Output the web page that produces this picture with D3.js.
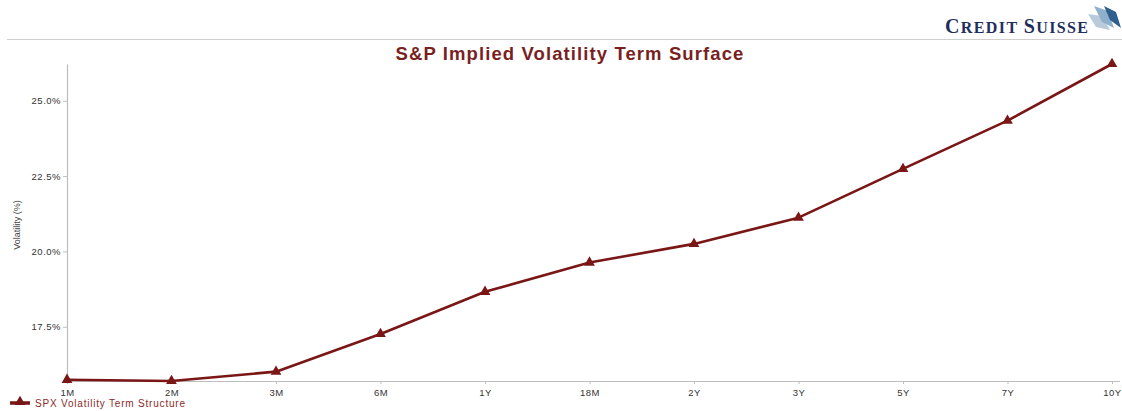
<!DOCTYPE html>
<html>
<head>
<meta charset="utf-8">
<script src="https://cdn.jsdelivr.net/npm/d3@7"></script>
<style>
  html, body { margin: 0; padding: 0; background: #fff; }
  svg { display: block; font-family: Arial, "Liberation Sans", sans-serif; }
</style>
</head>
<body>
<svg id="chart" width="1122" height="411"></svg>
<script>
// Tenors along the term structure
const tenors = ["1M", "2M", "3M", "6M", "1Y", "18M", "2Y", "3Y", "5Y", "7Y", "10Y"];
// SPX implied volatility (%) per tenor
const vols = [15.74, 15.70, 16.01, 17.26, 18.66, 19.63, 20.25, 21.12, 22.74, 24.34, 26.22];
// Y-axis tick values (%)
const yTicks = [17.5, 20.0, 22.5, 25.0];

const chartTitle = "S&P Implied Volatility Term Surface";
const seriesName = "SPX Volatility Term Structure";
const yTitle = "Volatility (%)";

const lineColor = "#7a1616";
const axisColor = "#bdbdbd";

const svg = d3.select("#chart");
const W = 1122, H = 411;

// Header rule and brand mark
svg.append("line")
  .attr("x1", 7).attr("x2", W).attr("y1", 39.5).attr("y2", 39.5)
  .attr("stroke", "#cfcfcf").attr("stroke-width", 1);

const brand = svg.append("text")
  .attr("x", 945).attr("y", 33)
  .attr("fill", "#1f2f5c")
  .attr("font-weight", "bold")
  .attr("font-family", "'Liberation Serif', 'DejaVu Serif', serif")
  .attr("letter-spacing", "1.4");
brand.append("tspan").attr("font-size", 20).text("C");
brand.append("tspan").attr("font-size", 16).text("REDIT ");
brand.append("tspan").attr("font-size", 20).text("S");
brand.append("tspan").attr("font-size", 16).text("UISSE");

// Sails of the brand mark
const sails = svg.append("g");
sails.append("path").attr("d", "M1088,14 L1102,16 L1110,30 L1096,27 Z").attr("fill", "#b9cbdb");
sails.append("path").attr("d", "M1094,6 L1108,11 L1114,28 L1102,22 Z").attr("fill", "#8fb0cb");
sails.append("path").attr("d", "M1104,6 L1116,12 L1121,28 L1110,20 Z").attr("fill", "#2f5f8c");

// Title
svg.append("text")
  .attr("x", 570).attr("y", 60)
  .attr("text-anchor", "middle")
  .attr("font-size", 18.5).attr("font-weight", "bold")
  .attr("letter-spacing", "1.1")
  .attr("fill", "#7a1f1f")
  .text(chartTitle);

// Scales
const x = d3.scalePoint()
  .domain(tenors)
  .range([67, 1112]);

const y = d3.scaleLinear()
  .domain(d3.extent(vols))
  .range([381, 64]);

// Axes
const xAxis = svg.append("g")
  .attr("transform", "translate(0,381)")
  .call(d3.axisBottom(x).tickSize(3).tickSizeOuter(0).tickPadding(5));
xAxis.select(".domain").attr("d", "M67,0.5H1120");

const yAxis = svg.append("g")
  .attr("transform", "translate(67,0)")
  .call(d3.axisLeft(y).tickValues(yTicks).tickFormat(d => d.toFixed(1) + "%")
    .tickSize(4).tickSizeOuter(0).tickPadding(2));

[xAxis, yAxis].forEach(g => {
  g.selectAll(".domain").attr("stroke", axisColor).attr("stroke-width", 1.2);
  g.selectAll(".tick line").attr("stroke", axisColor);
  g.selectAll(".tick text").attr("fill", "#333").attr("font-size", 9.5)
    .attr("letter-spacing", "0.5");
});

// Y axis title
svg.append("text")
  .attr("transform", "translate(20,225) rotate(-90)")
  .attr("text-anchor", "middle")
  .attr("font-size", 9).attr("fill", "#444")
  .text(yTitle);

// Series line
const line = d3.line()
  .x((d, i) => x(tenors[i]))
  .y(d => y(d));

svg.append("path")
  .datum(vols)
  .attr("d", line)
  .attr("fill", "none")
  .attr("stroke", lineColor)
  .attr("stroke-width", 2.6)
  .attr("stroke-linejoin", "round");

// Triangle markers
const tri = d3.symbol().type(d3.symbolTriangle).size(50);
svg.append("g").selectAll("path")
  .data(vols)
  .join("path")
  .attr("d", tri)
  .attr("transform", (d, i) => `translate(${x(tenors[i])},${y(d)})`)
  .attr("fill", lineColor);

// Legend
const legend = svg.append("g").attr("transform", "translate(0,403)");
legend.append("line")
  .attr("x1", 10).attr("x2", 30).attr("y1", 0).attr("y2", 0)
  .attr("stroke", lineColor).attr("stroke-width", 3.5);
legend.append("path")
  .attr("d", tri)
  .attr("transform", "translate(20,-1)")
  .attr("fill", lineColor);
legend.append("text")
  .attr("x", 35).attr("y", 3.5)
  .attr("font-size", 10).attr("fill", "#8b2a2a")
  .attr("letter-spacing", "0.8")
  .text(seriesName);
</script>
</body>
</html>
